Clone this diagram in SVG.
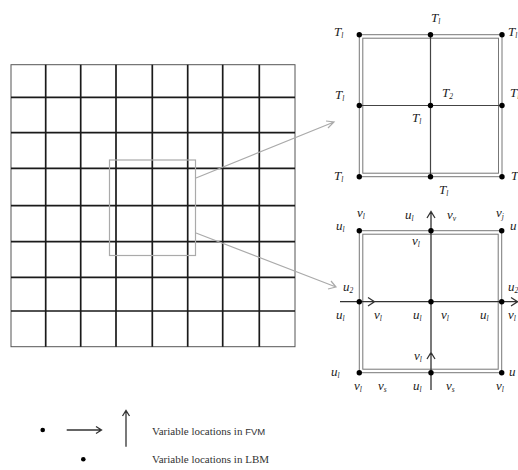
<svg xmlns="http://www.w3.org/2000/svg" width="518" height="470" viewBox="0 0 518 470">
<style>
.g{stroke:#1a1a1a;stroke-width:1.7;fill:none}
.gb{stroke:#555;stroke-width:1;fill:none}
.cl{stroke:#777;stroke-width:1;fill:none}
.cx{stroke:#444;stroke-width:1.2;fill:none}
.ar{stroke:#333;stroke-width:1.3;fill:none}
.gy{stroke:#aaa;stroke-width:1.2;fill:none}
.lb{font-family:"Liberation Serif",serif;font-style:italic;font-size:13px;fill:#222}
.sb{font-size:7.5px}
.lg{font-family:"Liberation Serif",serif;font-size:11px;fill:#333}
</style>
<rect width="518" height="470" fill="#fff"/>
<g id="grid">
<rect class="gb" x="11" y="64.7" width="284" height="282"/>
<path class="g" d="M45.7 64.7V346.7M80.7 64.7V346.7M116 64.7V346.7M152.3 64.7V346.7M187.7 64.7V346.7M222.7 64.7V346.7M259.3 64.7V346.7M11 97.3H295M11 132.7H295M11 168.3H295M11 205.7H295M11 241.7H295M11 277.3H295M11 311H295"/>
<rect class="gy" x="109.5" y="160" width="86" height="95.5" stroke-width="1"/>
</g>
<g id="connectors">
<path class="gy" d="M196 178L334 122M326 121L334 122L328 128"/>
<path class="gy" d="M196 233L336 287M328 289L336 287L331 281"/>
</g>
<g id="cellT">
<rect class="cl" x="359.3" y="34.7" width="142.7" height="142"/>
<rect class="cl" x="362.8" y="38.2" width="135.7" height="135"/>
<path class="cx" d="M430.5 34.7V176.7M359.3 105.5H502"/>
<g fill="#000">
<circle cx="359.3" cy="34.7" r="2.7"/><circle cx="430.5" cy="34.7" r="2.7"/><circle cx="502" cy="34.7" r="2.7"/>
<circle cx="359.3" cy="105.5" r="2.7"/><circle cx="430.5" cy="105.5" r="2.7"/><circle cx="502" cy="105.5" r="2.7"/>
<circle cx="359.3" cy="176.7" r="2.7"/><circle cx="430.5" cy="176.7" r="2.7"/><circle cx="502" cy="176.7" r="2.7"/>
</g>
<text class="lb" x="334" y="36">T<tspan class="sb" dy="2">l</tspan></text>
<text class="lb" x="431" y="22">T<tspan class="sb" dy="2">l</tspan></text>
<text class="lb" x="508" y="36">T<tspan class="sb" dy="2">l</tspan></text>
<text class="lb" x="335" y="99">T<tspan class="sb" dy="2">l</tspan></text>
<text class="lb" x="442" y="97">T<tspan class="sb" dy="2">2</tspan></text>
<text class="lb" x="412" y="122">T<tspan class="sb" dy="2">l</tspan></text>
<text class="lb" x="510" y="97">T<tspan class="sb" dy="2">l</tspan></text>
<text class="lb" x="334" y="180">T<tspan class="sb" dy="2">l</tspan></text>
<text class="lb" x="439" y="194">T<tspan class="sb" dy="2">l</tspan></text>
<text class="lb" x="511" y="180">T</text>
</g>
<g id="cellUV">
<rect class="cl" x="359.3" y="230.7" width="142.4" height="142"/>
<rect class="cl" x="362.8" y="234.2" width="135.4" height="135"/>
<path class="ar" d="M431 212V390M427 218L431 211.5L435 218M427 359L431 352.5L435 359"/>
<path class="ar" d="M340 301.7H518M368 297.5L374.5 301.7L368 306M511 297.5L517.5 301.7L511 306"/>
<g fill="#000">
<circle cx="359.3" cy="230.7" r="2.7"/><circle cx="431" cy="230.7" r="2.7"/><circle cx="501.7" cy="230.7" r="2.7"/>
<circle cx="359.3" cy="301.7" r="2.7"/><circle cx="431" cy="301.7" r="2.7"/><circle cx="501.7" cy="301.7" r="2.7"/>
<circle cx="359.3" cy="372.7" r="2.7"/><circle cx="431" cy="372.7" r="2.7"/><circle cx="501.7" cy="372.7" r="2.7"/>
</g>
<text class="lb" x="357" y="217">v<tspan class="sb" dy="2">l</tspan></text>
<text class="lb" x="336" y="230">u<tspan class="sb" dy="2">l</tspan></text>
<text class="lb" x="405" y="219">u<tspan class="sb" dy="2">l</tspan></text>
<text class="lb" x="447" y="219">v<tspan class="sb" dy="2">v</tspan></text>
<text class="lb" x="496" y="217">v<tspan class="sb" dy="2">j</tspan></text>
<text class="lb" x="510" y="230">u</text>
<text class="lb" x="412" y="245">v<tspan class="sb" dy="2">l</tspan></text>
<text class="lb" x="343" y="291">u<tspan class="sb" dy="2">2</tspan></text>
<text class="lb" x="508" y="291">u<tspan class="sb" dy="2">2</tspan></text>
<text class="lb" x="336" y="319">u<tspan class="sb" dy="2">l</tspan></text>
<text class="lb" x="374" y="319">v<tspan class="sb" dy="2">l</tspan></text>
<text class="lb" x="413" y="319">u<tspan class="sb" dy="2">l</tspan></text>
<text class="lb" x="441" y="319">v<tspan class="sb" dy="2">l</tspan></text>
<text class="lb" x="480" y="319">u<tspan class="sb" dy="2">l</tspan></text>
<text class="lb" x="508" y="319">v<tspan class="sb" dy="2">l</tspan></text>
<text class="lb" x="414" y="360">v<tspan class="sb" dy="2">l</tspan></text>
<text class="lb" x="331" y="376">u<tspan class="sb" dy="2">l</tspan></text>
<text class="lb" x="509" y="376">u</text>
<text class="lb" x="354" y="390">v<tspan class="sb" dy="2">l</tspan></text>
<text class="lb" x="378" y="390">v<tspan class="sb" dy="2">s</tspan></text>
<text class="lb" x="413" y="390">u<tspan class="sb" dy="2">l</tspan></text>
<text class="lb" x="446" y="390">v<tspan class="sb" dy="2">s</tspan></text>
<text class="lb" x="496" y="390">v<tspan class="sb" dy="2">l</tspan></text>
</g>
<g id="legend">
<circle cx="42.7" cy="430" r="2.3" fill="#000"/>
<path class="ar" stroke-width="1" d="M66.7 430H101.5M96 426.5L101.5 430L96 433.5"/>
<path class="ar" stroke-width="1" d="M126 446.7V410.5M122.5 416L126 410.5L129.5 416"/>
<text class="lg" x="152" y="435">Variable locations in <tspan font-family="'Liberation Sans',sans-serif" font-size="9.5">FVM</tspan></text>
<circle cx="83.3" cy="459.3" r="2.3" fill="#000"/>
<text class="lg" x="152" y="463">Variable locations in LBM</text>
</g>
</svg>
